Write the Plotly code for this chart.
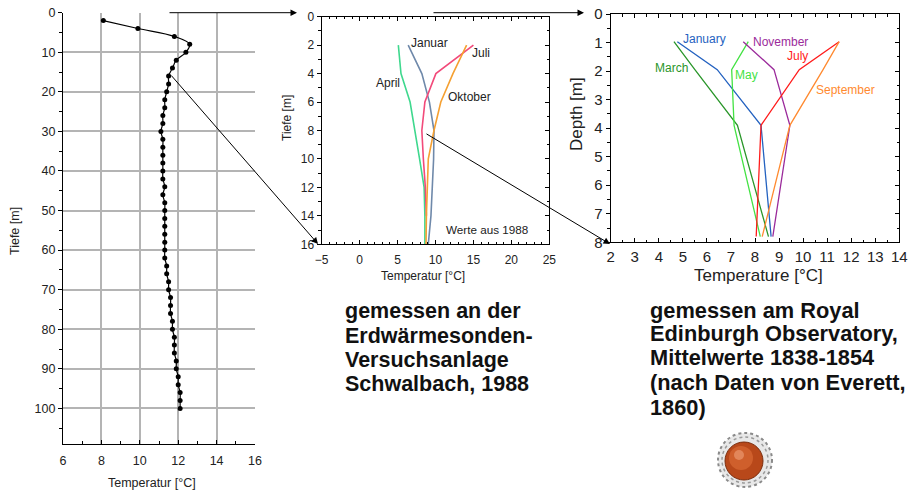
import plotly.graph_objects as go

W, H = 911, 492
FONT = "Liberation Sans, Arial, sans-serif"

# ---------------- data ----------------
# Left panel: Schwalbach 1988 borehole profile
left_depth = [2, 4, 6, 8, 10, 12, 14, 16, 18, 20, 22, 24, 26, 28, 30, 32, 34, 36, 38, 40,
              42, 44, 46, 48, 50, 52, 54, 56, 58, 60, 62, 64, 66, 68, 70, 72, 74, 76, 78, 80,
              82, 84, 86, 88, 90, 92, 94, 96, 98, 100]
left_temp = [8.1, 9.9, 11.8, 12.6, 12.4, 11.9, 11.7, 11.5, 11.5, 11.4, 11.3, 11.3, 11.2, 11.2, 11.1,
             11.2, 11.2, 11.2, 11.2, 11.2, 11.2, 11.3, 11.2, 11.3, 11.3, 11.3, 11.3, 11.3, 11.3,
             11.3, 11.3, 11.4, 11.4, 11.5, 11.5, 11.6, 11.6, 11.6, 11.7, 11.7, 11.8, 11.8, 11.8,
             11.9, 11.9, 12.0, 12.0, 12.1, 12.1, 12.1]

# Middle panel: monthly profiles 1988
mid_depth = [2, 4, 6, 8, 10, 12, 14, 16]
mid_januar = [6.4, 8.2, 9.2, 9.8, 9.75, 9.6, 9.4, 9.05]
mid_april = [5.1, 5.45, 6.65, 7.3, 7.9, 8.5, 8.6, 8.6]
mid_juli = [15.0, 10.05, 8.6, 8.2, 8.4, 8.66, 8.8]
mid_oktober = [14.1, 12.3, 10.7, 9.8, 9.05, 8.9, 8.8, 8.75]

# Right panel: Royal Edinburgh Observatory 1838-1854
right_depth = [0.97, 1.95, 3.9, 7.8]
right_january = [4.77, 6.43, 8.25, 8.67]
right_march = [4.63, 5.5, 7.27, 8.56]
right_may = [7.72, 7.03, 7.13, 8.22]
right_november = [7.51, 8.79, 9.45, 8.74]
right_july = [11.5, 9.84, 8.25, 8.05]
right_september = [11.5, 10.83, 9.45, 8.3]


def px(x):
    return x / W


def py(y):
    return 1 - y / H


fig = go.Figure()

# left panel
fig.add_trace(go.Scatter(x=left_temp, y=left_depth, mode="lines+markers",
                         line=dict(color="black", width=1.2, shape="spline", smoothing=1.0),
                         marker=dict(color="black", size=5), xaxis="x", yaxis="y",
                         showlegend=False, hoverinfo="skip"))

# middle panel
mid_series = [("April", mid_april, "#3fd88e"), ("Januar", mid_januar, "#6f89aa"),
              ("Juli", mid_juli, "#f24a7a"), ("Oktober", mid_oktober, "#f5a032")]
for name, vals, col in mid_series:
    fig.add_trace(go.Scatter(x=vals, y=mid_depth[:len(vals)], mode="lines", name=name,
                             line=dict(color=col, width=1.6), xaxis="x2", yaxis="y2",
                             showlegend=False, hoverinfo="skip"))
fig.add_trace(go.Scatter(x=[0], y=[0], mode="markers", marker=dict(opacity=0), xaxis="x2",
                         yaxis="y4", showlegend=False, hoverinfo="skip"))

# right panel
right_series = [("January", right_january, "#2462c0"), ("March", right_march, "#2a962a"),
                ("May", right_may, "#44e244"), ("November", right_november, "#9b2b9b"),
                ("July", right_july, "#ff1c1c"), ("September", right_september, "#ff8a30")]
for name, vals, col in right_series:
    fig.add_trace(go.Scatter(x=vals, y=right_depth, mode="lines", name=name,
                             line=dict(color=col, width=1.3), xaxis="x3", yaxis="y3",
                             showlegend=False, hoverinfo="skip"))
fig.add_trace(go.Scatter(x=[5], y=[0], mode="markers", marker=dict(opacity=0), xaxis="x3",
                         yaxis="y5", showlegend=False, hoverinfo="skip"))


def axis(**kw):
    d = dict(showline=True, linecolor="black", linewidth=1.3, tickcolor="black",
             tickfont=dict(family=FONT, size=12, color="#222"), zeroline=False,
             showgrid=False, fixedrange=True, tickmode="linear", automargin=False)
    d.update(kw)
    return d


layout_axes = dict(
    xaxis=axis(domain=[px(63), px(255)], range=[6, 16], tick0=6, dtick=2, anchor="y",
               ticks="inside", ticklen=4, showgrid=True, gridcolor="#b4b4b4", gridwidth=2,
               minor=dict(dtick=1, ticks="inside", ticklen=3, tickcolor="black", showgrid=False),
               tickfont=dict(family=FONT, size=12.5, color="#222"), ticklabelstandoff=5),
    yaxis=axis(domain=[py(444), py(12.7)], range=[109, 0], tick0=0, dtick=10, anchor="x",
               ticks="outside", ticklen=4, showgrid=True, gridcolor="#b4b4b4", gridwidth=2,
               minor=dict(dtick=5, ticks="outside", ticklen=3, tickcolor="black", showgrid=False),
               tickfont=dict(family=FONT, size=12.5, color="#222")),
    xaxis2=axis(domain=[px(321.7), px(549.3)], range=[-5, 25], tick0=0, dtick=5, anchor="y2",
                ticks="inside", ticklen=4, mirror="ticks", linewidth=1.2,
                minor=dict(dtick=1, ticks="inside", ticklen=2.5, tickcolor="black"),
                ticklabelstandoff=4),
    yaxis2=axis(domain=[py(244.3), py(16.7)], range=[16, 0], tick0=0, dtick=2, anchor="x2",
                ticks="outside", ticklen=4, linewidth=1.2,
                minor=dict(dtick=1, ticks="outside", ticklen=2.5, tickcolor="black")),
    yaxis4=axis(overlaying="y2", side="right", anchor="x2", range=[16, 0], tick0=0, dtick=2,
                ticks="inside", ticklen=4, showticklabels=False, linewidth=1.2,
                minor=dict(dtick=1, ticks="inside", ticklen=2.5, tickcolor="black")),
    xaxis3=axis(domain=[px(610.7), px(899.3)], range=[2, 14], tick0=2, dtick=1, anchor="y3",
                ticks="inside", ticklen=4, mirror="ticks", linewidth=1.2,
                minor=dict(dtick=0.5, ticks="inside", ticklen=2.5, tickcolor="black"),
                tickfont=dict(family=FONT, size=15, color="#222"), ticklabelstandoff=1),
    yaxis3=axis(domain=[py(242.3), py(14)], range=[8, 0], tick0=0, dtick=1, anchor="x3",
                ticks="outside", ticklen=4, linewidth=1.2,
                minor=dict(dtick=0.5, ticks="outside", ticklen=2.5, tickcolor="black"),
                tickfont=dict(family=FONT, size=15, color="#222")),
    yaxis5=axis(overlaying="y3", side="right", anchor="x3", range=[8, 0], tick0=0, dtick=1,
                ticks="inside", ticklen=4, showticklabels=False, linewidth=1.2,
                minor=dict(dtick=0.5, ticks="inside", ticklen=2.5, tickcolor="black")),
)


def label(text, x, y, size=12, color="#222", angle=0, xanchor="center", yanchor="middle"):
    return dict(text=text, x=px(x), y=py(y), xref="paper", yref="paper", showarrow=False,
                xanchor=xanchor, yanchor=yanchor, textangle=angle,
                font=dict(family=FONT, size=size, color=color))


def arrow(x0, y0, x1, y1):
    return dict(text="", x=px(x1), y=py(y1), xref="paper", yref="paper", ax=x0 - x1,
                ay=y0 - y1, axref="pixel", ayref="pixel", showarrow=True, arrowhead=2,
                arrowsize=1.3, arrowwidth=1, arrowcolor="black", standoff=0, startstandoff=0)


annotations = [
    # axis titles
    label("Tiefe [m]", 15, 231, 12.5, angle=-90),
    label("Temperatur [°C]", 152, 483, 12.5),
    label("Tiefe [m]", 287, 118, 12, angle=-90),
    label("Temperatur [°C]", 423, 276, 12),
    label("Depth [m]", 577, 114, 17, angle=-90),
    label("Temperature [°C]", 758, 275, 17),
    # middle labels
    label("Januar", 429, 43, 12),
    label("Juli", 481, 53, 12),
    label("April", 388, 83, 12),
    label("Oktober", 469, 97, 12),
    label("Werte aus 1988", 487, 229, 11.7),
    # right labels
    label("January", 704, 39, 12, "#2462c0"),
    label("November", 780, 42, 12, "#9b2b9b"),
    label("July", 797, 56, 12, "#ff1c1c"),
    label("March", 671, 68, 12, "#2a962a"),
    label("May", 746, 75, 12, "#44e244"),
    label("September", 845, 90, 12, "#ff8a30"),
    # arrows
    arrow(168, 12.7, 297, 12.7),
    arrow(170, 74, 318, 244),
    arrow(432, 12.7, 584, 12.7),
    arrow(425, 133, 610, 244),
]

left_lines = ["gemessen an der", "Erdwärmesonden-", "Versuchsanlage", "Schwalbach, 1988"]
left_ys = [311, 336, 360, 384]
for t, yy in zip(left_lines, left_ys):
    annotations.append(label("<b>" + t + "</b>", 343, yy, 21.5, "#111", xanchor="left"))

right_lines = ["gemessen am Royal", "Edinburgh Observatory,", "Mittelwerte 1838-1854",
               "(nach Daten von Everett,", "1860)"]
right_ys = [310, 333, 357, 382, 407]
for t, yy in zip(right_lines, right_ys):
    annotations.append(label("<b>" + t + "</b>", 648, yy, 21.8, "#111", xanchor="left"))


def circ(cx, cy, r, fill, line_color, lw=0, dash="solid", opacity=1):
    return dict(type="circle", xref="paper", yref="paper", x0=px(cx - r), x1=px(cx + r),
                y0=py(cy + r), y1=py(cy - r), fillcolor=fill, opacity=opacity,
                line=dict(color=line_color, width=lw, dash=dash), layer="above")


shapes = [
    circ(745, 460, 27, "#e8e8e8", "#8a8a8a", 2, "dot"),
    circ(745, 460, 23, "rgba(0,0,0,0)", "#9a9a9a", 1.5, "dot"),
    circ(744, 461, 19, "#b8481a", "#7a2c0c", 1),
    circ(741, 458, 12, "#d86a34", "#d86a34", 0, opacity=0.7),
    circ(739, 455, 5, "#eea07a", "#eea07a", 0, opacity=0.6),
]

fig.update_layout(width=W, height=H, margin=dict(l=0, r=0, t=0, b=0),
                  paper_bgcolor="white", plot_bgcolor="rgba(0,0,0,0)",
                  annotations=annotations, shapes=shapes, showlegend=False,
                  **layout_axes)

fig.write_html("out.html", config={"displayModeBar": False},
               post_script="document.body.style.margin='0';document.body.style.overflow='hidden';")
